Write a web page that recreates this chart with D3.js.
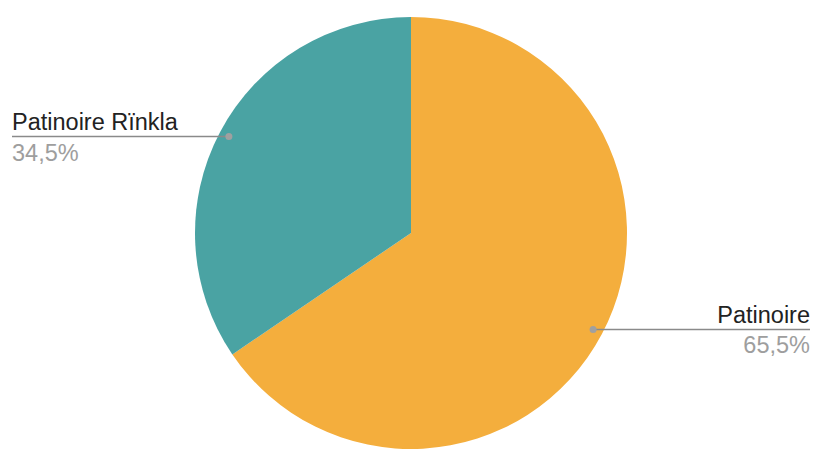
<!DOCTYPE html>
<html>
<head>
<meta charset="utf-8">
<script src="https://cdn.jsdelivr.net/npm/d3@7"></script>
<style>
  body { margin: 0; background: #fff; }
  text { font-family: "Liberation Sans", Arial, sans-serif; }
</style>
</head>
<body>
<div id="chart"></div>
<script>
const categories = ['Patinoire', 'Patinoire Rïnkla'];
const values = [65.5, 34.5];
const valueLabels = ['65,5%', '34,5%'];
const colors = ['#F4AE3D', '#4AA3A3'];

const width = 826, height = 462;
const cx = 411, cy = 233, radius = 216;

const svg = d3.select('#chart')
  .append('svg')
  .attr('width', width)
  .attr('height', height);

const pie = d3.pie().sort(null).value(function(d) { return d; });
const arcs = pie(values);

const arc = d3.arc().innerRadius(0).outerRadius(radius);
const dotArc = d3.arc().innerRadius(radius * 0.954).outerRadius(radius * 0.954);

const g = svg.append('g')
  .attr('transform', 'translate(' + cx + ',' + cy + ')');

g.selectAll('path')
  .data(arcs)
  .enter().append('path')
  .attr('fill', function(d, i) { return colors[i]; })
  .attr('d', arc);

// labels with leader lines
arcs.forEach(function(d, i) {
  const p = dotArc.centroid(d);
  const right = p[0] > 0;
  const endX = right ? width - 16 - cx : 12 - cx;

  g.append('line')
    .attr('x1', p[0]).attr('y1', p[1])
    .attr('x2', endX).attr('y2', p[1])
    .attr('stroke', '#8a8a8a')
    .attr('stroke-width', 1.5);

  g.append('circle')
    .attr('cx', p[0]).attr('cy', p[1])
    .attr('r', 3.5)
    .attr('fill', '#a0a0a0');

  g.append('text')
    .attr('x', endX).attr('y', p[1] - 6.5)
    .attr('text-anchor', right ? 'end' : 'start')
    .attr('font-size', 23.5)
    .attr('fill', '#222')
    .text(categories[i]);

  g.append('text')
    .attr('x', endX).attr('y', p[1] + 24)
    .attr('text-anchor', right ? 'end' : 'start')
    .attr('font-size', 23.5)
    .attr('fill', '#9e9e9e')
    .text(valueLabels[i]);
});
</script>
</body>
</html>
